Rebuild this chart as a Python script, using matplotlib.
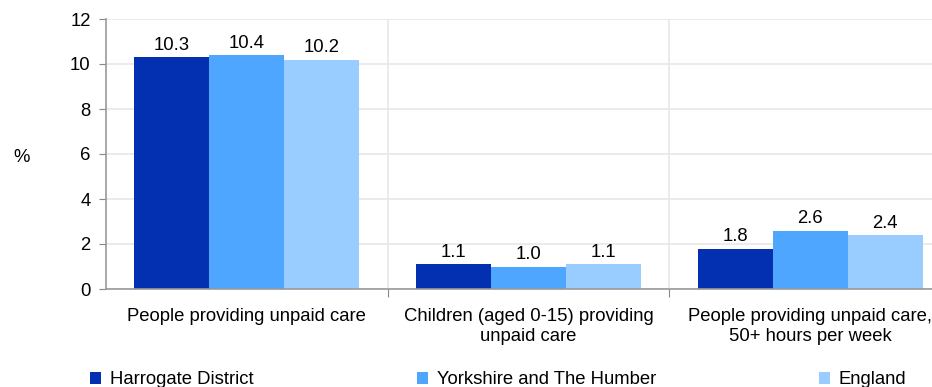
import matplotlib
matplotlib.use("Agg")
import matplotlib.pyplot as plt
import numpy as np
from matplotlib.patches import Patch
import matplotlib.transforms as mtransforms

plt.rcParams['font.family'] = ['Liberation Sans', 'DejaVu Sans']

categories = ["People providing unpaid care",
              "Children (aged 0-15) providing\nunpaid care",
              "People providing unpaid care,\n50+ hours per week"]
series_names = ["Harrogate District", "Yorkshire and The Humber", "England"]
harrogate = [10.3, 1.1, 1.8]
yorkshire = [10.4, 1.0, 2.6]
england = [10.2, 1.1, 2.4]
labels = [["10.3", "1.1", "1.8"], ["10.4", "1.0", "2.6"], ["10.2", "1.1", "2.4"]]
colors = ["#0230B0", "#4FA6FF", "#99CCFF"]

FS = 13.3
W, H = 932, 387
fig = plt.figure(figsize=(W/100, H/100), dpi=100)
left, right = 106/W, 951/W
bottom, top = 1-289/H, 1-19/H
ax = fig.add_axes([left, bottom, right-left, top-bottom])

x = np.arange(len(categories))
bw = 0.8/3
for i, (vals, c) in enumerate(zip([harrogate, yorkshire, england], colors)):
    pos = x - 0.4 + bw*(i+0.5)
    ax.bar(pos, vals, width=bw, color=c, zorder=3, label=series_names[i])
    for p, v, l in zip(pos, vals, labels[i]):
        ax.annotate(l, (p, v), xytext=(0, 2.5), textcoords='offset points',
                    ha='center', va='bottom', fontsize=FS, color='black')

ax.set_xlim(-0.5, 2.5)
ax.set_ylim(0, 12)
ax.set_yticks(range(0, 13, 2))
ax.set_yticklabels([str(v) for v in range(0, 13, 2)], fontsize=FS)
ax.set_xticks([0.5, 1.5])
ax.set_xticklabels([])
ax.tick_params(axis='x', direction='out', length=6, color='#888888')
ax.tick_params(axis='y', direction='out', length=5, color='#888888', pad=6)
ax.grid(True, axis='both', color='#E8E8E8', linewidth=1.2, zorder=0)
for s in ['top', 'right']:
    ax.spines[s].set_visible(False)
for s in ['left', 'bottom']:
    ax.spines[s].set_color('#999999')
    ax.spines[s].set_linewidth(1.2)
    ax.spines[s].set_zorder(4)

trans = mtransforms.blended_transform_factory(ax.transData, fig.transFigure)
for xi, cat in zip(x, categories):
    ax.text(xi, 1-308/H, cat, ha='center', va='top', fontsize=FS,
            transform=trans, linespacing=1.2)

fig.text(22/W, 1-158/H, "%", ha='center', va='center', fontsize=FS)

handles = [Patch(facecolor=c) for c in colors]
fig.legend(handles, series_names, loc='center left', bbox_to_anchor=(90/W, 1-380/H),
           ncol=3, frameon=False, fontsize=FS, handlelength=0.6, handleheight=0.6,
           handletextpad=0.5, columnspacing=8.8, borderaxespad=0, borderpad=0)

fig.savefig("out.png", dpi=100)
